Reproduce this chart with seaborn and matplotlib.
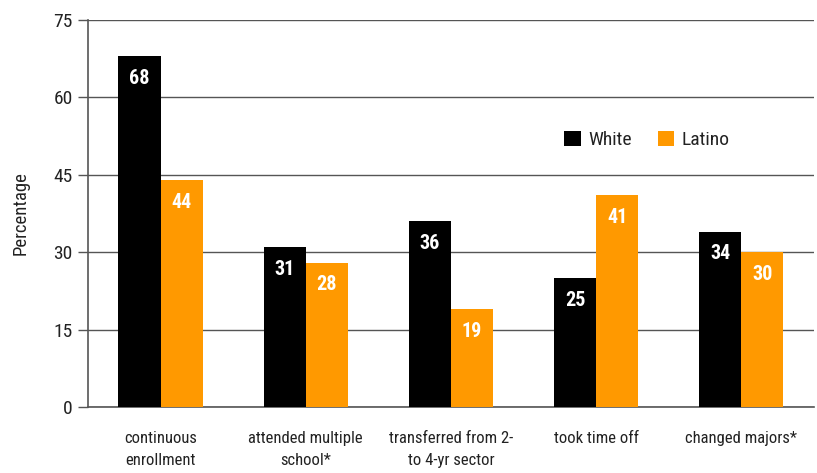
import matplotlib
matplotlib.use("Agg")
import matplotlib.pyplot as plt
from matplotlib import font_manager
import seaborn as sns
import pandas as pd

categories = ["continuous\nenrollment", "attended multiple\nschool*",
              "transferred from 2-\nto 4-yr sector", "took time off",
              "changed majors*"]
white = [68, 31, 36, 25, 34]
latino = [44, 28, 19, 41, 30]
groups = ["White", "Latino"]
colors = ["#000000", "#FF9900"]
yticks = [0, 15, 30, 45, 60, 75]

sns.set_theme(style="white")
names = {f.name for f in font_manager.fontManager.ttflist}
fam = [f for f in ["Liberation Sans Narrow", "Roboto Condensed", "DejaVu Sans"] if f in names] or ["DejaVu Sans"]
plt.rcParams["font.family"] = fam

df = pd.DataFrame({
    "category": categories * 2,
    "group": [groups[0]] * len(categories) + [groups[1]] * len(categories),
    "value": white + latino,
})

fig = plt.figure(figsize=(8.17, 4.73), dpi=100)
ax = fig.add_axes([0.1077, 0.1395, 0.8886, 0.8182])

sns.barplot(data=df, x="category", y="value", hue="group", order=categories,
            hue_order=groups, palette=colors, width=0.58, saturation=1,
            errorbar=None, ax=ax, zorder=3, linewidth=0, edgecolor="none")

ax.set_ylim(0, 75)
ax.set_xlim(-0.5, len(categories) - 0.5)
ax.set_yticks(yticks)
ax.set_yticklabels([str(t) for t in yticks], fontsize=14, color="#222222")
ax.yaxis.grid(True, color="#555555", linewidth=1.0, zorder=0)
ax.set_axisbelow(True)

# category labels centred, tick marks on the boundaries between categories
ax.set_xticks(range(len(categories)))
ax.set_xticklabels(categories, fontsize=12, color="#222222", linespacing=1.65)
ax.tick_params(axis="x", which="major", length=0, pad=17)
ax.set_xticks([i - 0.5 for i in range(len(categories) + 1)], minor=True)
ax.tick_params(axis="x", which="minor", length=7, width=1, color="#555555", direction="out")
ax.tick_params(axis="y", which="major", length=7, width=1, color="#555555", direction="out", left=True, pad=4)

for side in ["top", "right"]:
    ax.spines[side].set_visible(False)
for side in ["left", "bottom"]:
    ax.spines[side].set_color("#555555")
    ax.spines[side].set_linewidth(1.2)

ax.set_xlabel("")
ax.set_ylabel("Percentage", fontsize=13.5, color="#222222", labelpad=17)

for container in ax.containers:
    for bar in container:
        h = bar.get_height()
        ax.annotate(f"{h:.0f}", xy=(bar.get_x() + bar.get_width() / 2, h),
                    xytext=(0, -16), textcoords="offset points",
                    ha="center", va="center", color="white",
                    fontsize=14.5, fontweight="bold", zorder=4)

leg = ax.legend(loc="center left", bbox_to_anchor=(0.632, 0.69), ncol=2,
                frameon=False, fontsize=14, handlelength=0.85, handleheight=0.85,
                handletextpad=0.4, columnspacing=1.3)
for t in leg.get_texts():
    t.set_color("#222222")

fig.savefig("out.png", dpi=100)
